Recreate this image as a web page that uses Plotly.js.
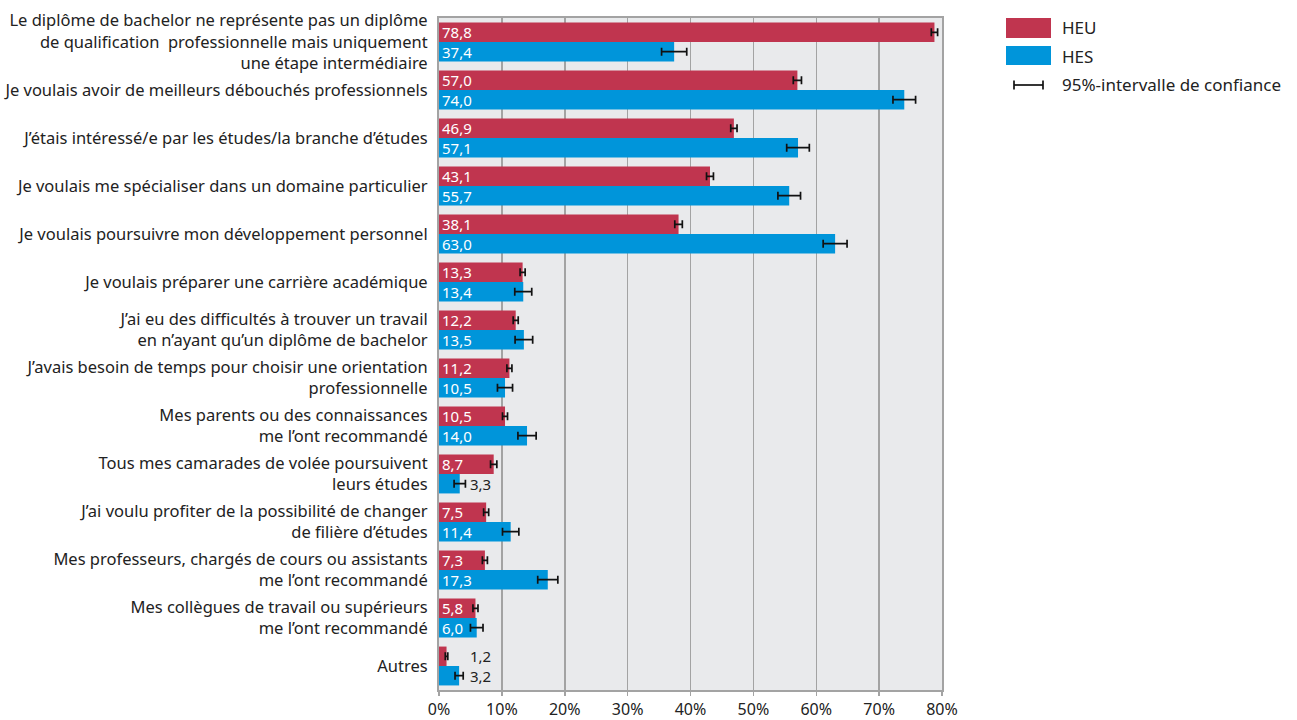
<!DOCTYPE html>
<html>
<head>
<meta charset="utf-8">
<script src="https://cdn.plot.ly/plotly-3.0.1.min.js"></script>
<style>html,body{margin:0;padding:0;background:#fff;}#chart{width:1297px;height:720px;}</style>
</head>
<body>
<div id="chart"></div>
<script>
var categories = [
  "Le diplôme de bachelor ne représente pas un diplôme<br>de qualification  professionnelle mais uniquement<br>une étape intermédiaire",
  "Je voulais avoir de meilleurs débouchés professionnels",
  "J’étais intéressé/e par les études/la branche d’études",
  "Je voulais me spécialiser dans un domaine particulier",
  "Je voulais poursuivre mon développement personnel",
  "Je voulais préparer une carrière académique",
  "J’ai eu des difficultés à trouver un travail<br>en n’ayant qu’un diplôme de bachelor",
  "J’avais besoin de temps pour choisir une orientation<br>professionnelle",
  "Mes parents ou des connaissances<br>me l’ont recommandé",
  "Tous mes camarades de volée poursuivent<br>leurs études",
  "J’ai voulu profiter de la possibilité de changer<br>de filière d’études",
  "Mes professeurs, chargés de cours ou assistants<br>me l’ont recommandé",
  "Mes collègues de travail ou supérieurs<br>me l’ont recommandé",
  "Autres"
];
var heuValues = [78.8, 57.0, 46.9, 43.1, 38.1, 13.3, 12.2, 11.2, 10.5, 8.7, 7.5, 7.3, 5.8, 1.2];
var hesValues = [37.4, 74.0, 57.1, 55.7, 63.0, 13.4, 13.5, 10.5, 14.0, 3.3, 11.4, 17.3, 6.0, 3.2];
var heuErr = [0.5, 0.65, 0.5, 0.55, 0.6, 0.4, 0.4, 0.4, 0.4, 0.5, 0.4, 0.4, 0.4, 0.2];
var hesErr = [2.0, 1.8, 1.8, 1.8, 1.9, 1.35, 1.4, 1.2, 1.45, 0.9, 1.3, 1.6, 1.0, 0.65];
var xTickVals = [0, 10, 20, 30, 40, 50, 60, 70, 80];
var xTickText = ["0%", "10%", "20%", "30%", "40%", "50%", "60%", "70%", "80%"];
var seriesNames = ["HEU", "HES"];
var legendErrLabel = "95%-intervalle de confiance";

var colHEU = "#c0354f", colHES = "#0095da";
var FONT = "Noto Sans, Open Sans, sans-serif";
var SMALL = 4;

function fmt(v){ return v.toFixed(1).replace('.', ','); }

var annotations = [];
function mkText(vals, trace){
  return vals.map(function(v, i){
    if (v < SMALL) {
      annotations.push({x: 4.8, y: categories[i], yref: 'y', xref: 'x', xanchor: 'left', yanchor: 'middle',
        text: fmt(v), showarrow: false, borderpad: 0, font: {family: FONT, size: 15, color: '#222'},
        yshift: trace === 0 ? 10 : -10});
      return '';
    }
    return fmt(v);
  });
}

var heuText = mkText(heuValues, 0);
var hesText = mkText(hesValues, 1);

var traces = [
  {type: 'bar', orientation: 'h', name: seriesNames[0], y: categories, x: heuValues,
   marker: {color: colHEU}, text: heuText, textposition: 'inside', insidetextanchor: 'start',
   textangle: 0, constraintext: 'none', textfont: {family: FONT, size: 15, color: '#fff'},
   error_x: {type: 'data', array: heuErr, visible: true, color: '#111', thickness: 1.7, width: 4},
   hoverinfo: 'x+y'},
  {type: 'bar', orientation: 'h', name: seriesNames[1], y: categories, x: hesValues,
   marker: {color: colHES}, text: hesText, textposition: 'inside', insidetextanchor: 'start',
   textangle: 0, constraintext: 'none', textfont: {family: FONT, size: 15, color: '#fff'},
   error_x: {type: 'data', array: hesErr, visible: true, color: '#111', thickness: 1.7, width: 4},
   hoverinfo: 'x+y'}
];

// manual legend (paper coordinates relative to plot area)
var W = 1297, H = 720;
var ML = 439, MR = 355, MT = 18, MB = 30;
var PW = W - ML - MR, PH = H - MT - MB;
function px(x){ return (x - ML) / PW; }
function py(y){ return (H - MB - y) / PH; }
var shapes = [
  {type: 'rect', xref: 'paper', yref: 'paper', x0: px(1006), x1: px(1051), y0: py(38), y1: py(18), fillcolor: colHEU, line: {width: 0}},
  {type: 'rect', xref: 'paper', yref: 'paper', x0: px(1006), x1: px(1051), y0: py(65), y1: py(46), fillcolor: colHES, line: {width: 0}},
  {type: 'line', xref: 'paper', yref: 'paper', x0: px(1014), x1: px(1043), y0: py(85), y1: py(85), line: {color: '#111', width: 1.7}},
  {type: 'line', xref: 'paper', yref: 'paper', x0: px(1014), x1: px(1014), y0: py(80.5), y1: py(89.5), line: {color: '#111', width: 1.7}},
  {type: 'line', xref: 'paper', yref: 'paper', x0: px(1043), x1: px(1043), y0: py(80.5), y1: py(89.5), line: {color: '#111', width: 1.7}}
];
var legTexts = [seriesNames[0], seriesNames[1], legendErrLabel];
var legY = [28, 56, 85];
legTexts.forEach(function(t, i){
  annotations.push({xref: 'paper', yref: 'paper', x: px(1060), y: py(legY[i]), xanchor: 'left', yanchor: 'middle',
    text: t, showarrow: false, font: {family: FONT, size: 17, color: '#222'}});
});

var layout = {
  width: W, height: H,
  margin: {l: ML, r: MR, t: MT, b: MB, pad: 0},
  paper_bgcolor: '#fff', plot_bgcolor: '#e9eaec',
  barmode: 'group', bargap: 0.19, bargroupgap: 0,
  showlegend: false,
  font: {family: FONT, size: 15, color: '#222'},
  xaxis: {range: [0, 80], tickvals: xTickVals, ticktext: xTickText, showgrid: true,
    gridcolor: '#a3a3a3', gridwidth: 1.5, zeroline: false,
    showline: true, mirror: true, linecolor: '#a3a3a3', linewidth: 2,
    ticks: 'outside', ticklen: 4, tickcolor: '#a3a3a3', tickwidth: 1.5,
    tickfont: {family: FONT, size: 16, color: '#222'}, fixedrange: true},
  yaxis: {autorange: 'reversed', showgrid: false, zeroline: false,
    showline: true, mirror: true, linecolor: '#a3a3a3', linewidth: 2,
    ticks: '', ticklabelstandoff: 6,
    tickfont: {family: FONT, size: 16.5, color: '#222'}, fixedrange: true},
  shapes: shapes,
  annotations: annotations
};

Plotly.newPlot('chart', traces, layout, {displayModeBar: false, staticPlot: true});
</script>
</body>
</html>
